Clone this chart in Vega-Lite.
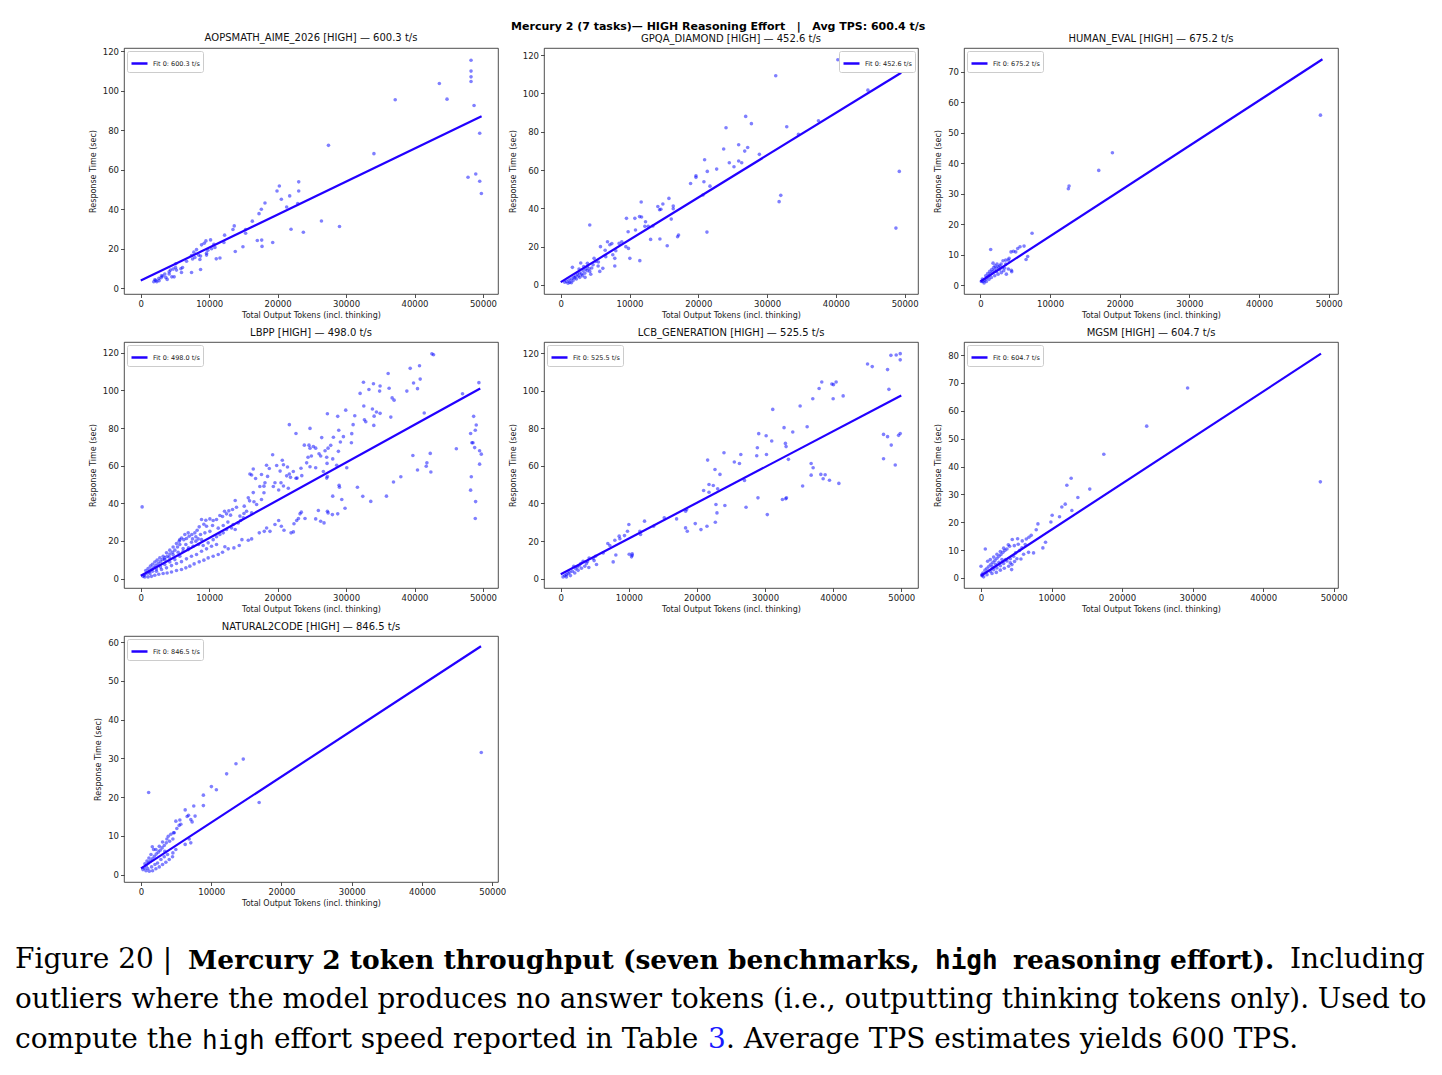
{
  "$schema": "https://vega.github.io/schema/vega-lite/v6.json",
  "background": "white",
  "padding": {"left": 15, "top": 20, "right": 0, "bottom": 5},
  "spacing": 38,
  "vconcat": [
    {
      "spacing": 0,
      "resolve": {"scale": {"color": "independent"}, "legend": {"color": "independent"}},
      "hconcat": [
        {"width": 73, "height": 1, "view": {"stroke": null}, "mark": "text", "encoding": {"text": {"value": ""}}},
        {
          "title": {"text": "Mercury 2 (7 tasks)— HIGH Reasoning Effort\u00a0\u00a0\u00a0|\u00a0\u00a0\u00a0Avg TPS: 600.4 t/s", "fontWeight": "bold", "fontSize": 11, "anchor": "middle", "offset": 1, "color": "#000"},
          "bounds": "flush",
          "columns": 3,
          "spacing": {"row": 48, "column": 46},
          "resolve": {"scale": {"color": "independent"}, "legend": {"color": "independent"}},
          "concat": [
            {
              "width": 374, "height": 246,
              "title": "AOPSMATH_AIME_2026 [HIGH] — 600.3 t/s",
              "encoding": {
                "x": {"field": "x", "type": "quantitative", "title": "Total Output Tokens (incl. thinking)", "scale": {"domain": [-2450, 52200], "nice": false, "zero": false}, "axis": {"values": [0, 10000, 20000, 30000, 40000, 50000], "format": "d"}},
                "y": {"field": "y", "type": "quantitative", "title": "Response Time (sec)", "scale": {"domain": [-3.0, 121.6], "nice": false, "zero": false}, "axis": {"values": [0, 20, 40, 60, 80, 100, 120], "format": "d"}}
              },
              "layer": [
                {
                  "data": {"values": "x,y\n48260,115.4\n48260,109.9\n48260,107.0\n48260,104.6\n43630,103.6\n44750,95.7\n37180,95.4\n48700,92.5\n49530,78.4\n27430,72.3\n34070,68.1\n47820,56.1\n48950,57.8\n49530,54.1\n49770,47.9\n20250,51.7\n19910,49.2\n23080,53.8\n23080,49.2\n20540,45.0\n21760,46.7\n21320,41.1\n18150,43.1\n17620,39.9\n17280,37.7\n22940,42.8\n16300,33.9\n26400,34.0\n29040,31.2\n23760,28.3\n21960,29.8\n13660,31.5\n13470,29.7\n15320,29.7\n15320,27.8\n12250,26.8\n13810,18.5\n17670,24.3\n17030,24.1\n17720,21.1\n19280,23.1\n14930,20.9\n12150,23.1\n11570,15.2\n11030,14.8\n10200,24.4\n9520,23.9\n9270,22.7\n8880,21.9\n10350,19.9\n10690,22.2\n10840,20.6\n8150,19.5\n7760,18.2\n7420,16.5\n7910,15.5\n8740,16.2\n8440,16.7\n9610,17.7\n9610,16.7\n9810,19.2\n7570,14.7\n8640,14.5\n8740,9.4\n7420,7.9\n6690,13.6\n5860,9.8\n6100,10.4\n5950,7.9\n5120,12.3\n5080,10.4\n4730,9.6\n5220,9.1\n4340,9.1\n4150,8.3\n4150,7.1\n4540,5.7\n4880,5.7\n3660,5.4\n3510,7.1\n3860,4.4\n3220,6.1\n2980,5.2\n2640,4.9\n2200,3.9\n1900,3.2\n2340,3.2\n2680,3.7\n2050,4.2\n3030,6.2", "format": {"type": "csv", "parse": {"x": "number", "y": "number"}}},
                  "mark": {"type": "circle", "size": 13, "color": "#0000ff", "opacity": 0.5}
                },
                {
                  "data": {"values": [{"x": 0, "y": 3.8, "fit": "Fit 0: 600.3 t/s"}, {"x": 49800, "y": 87.0, "fit": "Fit 0: 600.3 t/s"}]},
                  "mark": {"type": "line", "strokeWidth": 2.2},
                  "encoding": {"color": {"field": "fit", "type": "nominal", "scale": {"range": ["#2200ff"]}, "legend": {"title": null}}}
                }
              ]
            },
            {
              "width": 374, "height": 246,
              "title": "GPQA_DIAMOND [HIGH] — 452.6 t/s",
              "encoding": {
                "x": {"field": "x", "type": "quantitative", "title": "Total Output Tokens (incl. thinking)", "scale": {"domain": [-2430, 51940], "nice": false, "zero": false}, "axis": {"values": [0, 10000, 20000, 30000, 40000, 50000], "format": "d"}},
                "y": {"field": "y", "type": "quantitative", "title": "Response Time (sec)", "scale": {"domain": [-4.7, 123.7], "nice": false, "zero": false}, "axis": {"values": [0, 20, 40, 60, 80, 100, 120], "format": "d"}}
              },
              "layer": [
                {
                  "data": {"values": "x,y\n40290,117.6\n49510,114.3\n31260,109.2\n44660,101.7\n26890,88.0\n24030,82.1\n27720,84.2\n32860,82.6\n37470,85.7\n34560,78.6\n25870,73.2\n27180,71.8\n23690,71.0\n26750,69.9\n28880,68.2\n25870,64.7\n26310,63.8\n25190,61.7\n24510,63.8\n20920,65.4\n21310,59.3\n22670,60.5\n19660,57.0\n19660,56.2\n18880,53.0\n20820,53.9\n20680,47.0\n21700,51.6\n49220,59.3\n31990,46.8\n31750,43.5\n48730,29.7\n21260,27.6\n15730,45.2\n14850,42.3\n16360,41.2\n16360,39.8\n14120,41.0\n14370,39.3\n14560,39.5\n11700,43.3\n11460,35.7\n11750,35.5\n10780,34.8\n12330,33.0\n12230,30.6\n12720,30.6\n13400,30.8\n9560,34.8\n10870,28.7\n9800,27.8\n16070,34.4\n16990,25.2\n17130,26.1\n14420,24.0\n13070,23.8\n15480,20.5\n11500,12.7\n10050,13.9\n4220,31.3\n9470,20.0\n9850,19.1\n8880,22.6\n8490,21.7\n8010,17.9\n7570,15.8\n7860,13.9\n7860,9.9\n6800,22.6\n7430,21.6\n7140,21.0\n6460,18.1\n5780,20.0\n6550,14.8\n6120,8.7\n5680,7.1\n5480,12.0\n4850,13.9\n5100,12.3\n5440,9.9\n4370,5.6\n4220,7.1\n3880,11.3\n3880,9.6\n3640,8.3\n3540,4.0\n2910,11.5\n1700,9.2\n3250,7.5\n2770,6.3\n2430,5.7\n2180,4.7\n1890,4.0\n1550,3.1\n1210,2.6\n830,1.9\n580,1.4\n1310,1.4\n1800,2.3\n2280,3.1\n2770,4.0\n3160,4.9\n3490,6.1\n3830,7.5\n2570,4.7\n2040,3.7\n3010,5.7\n1070,0.9\n1550,1.2\n4130,8.5\n4510,8.9\n4710,10.6\n3350,9.6\n2670,8.3", "format": {"type": "csv", "parse": {"x": "number", "y": "number"}}},
                  "mark": {"type": "circle", "size": 13, "color": "#0000ff", "opacity": 0.5}
                },
                {
                  "data": {"values": [{"x": 0, "y": 1.5, "fit": "Fit 0: 452.6 t/s"}, {"x": 49500, "y": 110.8, "fit": "Fit 0: 452.6 t/s"}]},
                  "mark": {"type": "line", "strokeWidth": 2.2},
                  "encoding": {"color": {"field": "fit", "type": "nominal", "scale": {"range": ["#2200ff"]}, "legend": {"title": null, "orient": "top-right"}}}
                }
              ]
            },
            {
              "width": 374, "height": 246,
              "title": "HUMAN_EVAL [HIGH] — 675.2 t/s",
              "encoding": {
                "x": {"field": "x", "type": "quantitative", "title": "Total Output Tokens (incl. thinking)", "scale": {"domain": [-2350, 51330], "nice": false, "zero": false}, "axis": {"values": [0, 10000, 20000, 30000, 40000, 50000], "format": "d"}},
                "y": {"field": "y", "type": "quantitative", "title": "Response Time (sec)", "scale": {"domain": [-2.9, 77.7], "nice": false, "zero": false}, "axis": {"values": [0, 10, 20, 30, 40, 50, 60, 70], "format": "d"}}
              },
              "layer": [
                {
                  "data": {"values": "x,y\n48810,55.7\n18950,43.4\n16990,37.6\n12730,32.5\n12630,31.6\n7420,17.0\n6790,9.4\n6560,8.4\n6270,12.8\n5690,12.6\n5360,12.0\n5070,10.9\n4740,11.1\n4400,10.9\n4120,8.8\n4020,8.2\n3640,8.2\n4020,5.3\n4450,4.9\n4500,4.4\n3730,3.6\n3640,6.9\n3250,8.0\n2970,6.9\n2580,6.0\n2300,5.6\n2010,4.9\n1720,4.3\n1440,3.6\n1150,2.9\n860,2.3\n620,1.6\n380,1.2\n1480,11.7\n1820,7.2\n2390,6.9\n2780,6.3\n3160,5.8\n3010,4.1\n2540,3.6\n2060,3.1\n1580,2.5\n1240,1.9\n860,1.2\n530,0.7\n2300,4.5\n2780,5.1\n3490,5.6\n3350,4.7\n1910,5.8\n1630,5.1\n2110,6.3\n1340,4.5\n1050,3.8\n770,3.1\n290,2.0\n140,1.2", "format": {"type": "csv", "parse": {"x": "number", "y": "number"}}},
                  "mark": {"type": "circle", "size": 13, "color": "#0000ff", "opacity": 0.5}
                },
                {
                  "data": {"values": [{"x": 0, "y": 1.2, "fit": "Fit 0: 675.2 t/s"}, {"x": 49100, "y": 74.0, "fit": "Fit 0: 675.2 t/s"}]},
                  "mark": {"type": "line", "strokeWidth": 2.2},
                  "encoding": {"color": {"field": "fit", "type": "nominal", "scale": {"range": ["#2200ff"]}, "legend": {"title": null}}}
                }
              ]
            },
            {
              "width": 374, "height": 246,
              "title": "LBPP [HIGH] — 498.0 t/s",
              "encoding": {
                "x": {"field": "x", "type": "quantitative", "title": "Total Output Tokens (incl. thinking)", "scale": {"domain": [-2450, 52200], "nice": false, "zero": false}, "axis": {"values": [0, 10000, 20000, 30000, 40000, 50000], "format": "d"}},
                "y": {"field": "y", "type": "quantitative", "title": "Response Time (sec)", "scale": {"domain": [-5.0, 125.7], "nice": false, "zero": false}, "axis": {"values": [0, 20, 40, 60, 80, 100, 120], "format": "d"}}
              },
              "layer": [
                {
                  "data": {"values": "x,y\n42780,118.9\n42540,119.4\n40730,113.1\n39370,111.7\n36150,109.0\n40830,106.0\n39860,103.9\n32540,104.3\n34000,103.5\n34970,102.3\n36290,101.1\n33340,100.5\n34900,99.6\n32050,98.4\n38880,99.6\n40440,100.9\n49410,104.1\n47020,98.2\n36730,96.0\n37020,94.8\n32590,91.7\n33850,90.1\n34440,88.5\n34970,87.8\n36540,85.8\n34100,86.3\n32680,84.4\n32880,83.3\n34050,81.4\n29950,89.5\n28780,86.2\n27270,87.6\n31270,86.5\n31030,81.8\n30830,77.0\n28930,78.8\n29610,75.4\n29170,72.6\n28150,75.1\n26440,74.9\n27760,70.8\n27370,69.3\n26930,67.9\n28880,67.6\n30780,72.2\n24730,79.8\n22680,77.1\n21710,81.8\n23900,70.9\n24580,70.9\n25220,70.2\n25560,69.3\n24730,69.3\n26050,66.3\n26290,65.1\n24930,65.1\n24440,64.5\n24240,61.5\n24730,59.4\n25560,58.9\n27170,64.5\n28050,63.6\n27220,61.2\n28630,60.2\n30100,58.9\n23410,58.6\n22290,56.9\n20680,62.9\n19270,65.8\n19860,60.1\n20850,60.5\n21440,59.3\n20360,57.1\n21710,55.6\n21320,54.6\n21880,53.8\n22840,53.4\n23530,54.7\n18380,60.2\n18780,58.5\n17640,55.3\n18530,54.3\n16440,58.2\n15950,55.6\n16200,55.0\n16780,53.2\n18150,50.9\n19610,50.9\n19370,48.9\n20490,50.9\n20850,49.2\n21560,48.0\n22680,53.3\n20150,47.1\n18000,49.1\n17400,48.9\n18000,45.6\n16440,45.7\n15710,42.9\n15900,41.3\n15120,38.5\n15460,35.8\n15080,34.6\n16200,34.9\n16540,40.8\n17640,42.0\n16930,39.4\n13800,41.5\n13990,37.9\n13410,36.7\n12870,36.0\n12240,35.8\n13120,33.7\n12530,34.4\n11950,33.0\n11560,33.5\n11070,31.4\n10580,30.9\n10100,31.7\n9510,31.0\n9220,28.9\n8880,31.4\n9610,27.8\n10490,28.2\n11320,26.8\n12050,28.2\n12730,30.0\n13800,26.1\n14590,30.9\n8540,27.5\n8240,25.7\n7900,24.3\n7460,23.4\n7070,22.5\n6680,21.3\n6290,20.7\n5710,20.7\n7560,21.1\n8050,19.9\n8390,21.1\n8730,23.4\n9370,24.3\n10100,25.1\n8440,18.1\n7660,17.2\n6970,16.3\n6190,16.0\n5710,18.1\n5370,16.8\n4980,15.1\n4630,14.0\n4240,13.1\n3850,11.9\n3510,11.0\n3170,10.1\n2880,9.0\n2540,8.0\n2200,6.9\n1900,5.9\n1560,4.8\n1220,3.7\n830,2.7\n490,1.8\n340,1.2\n200,38.1\n590,0.9\n1070,0.9\n1560,1.2\n2050,1.8\n2630,2.3\n3270,2.7\n3850,3.0\n4490,3.5\n5220,4.3\n5950,4.8\n6590,5.7\n7170,6.6\n7800,7.8\n8540,8.9\n9220,9.8\n9850,11.0\n10580,11.9\n11320,12.8\n11950,14.0\n12780,15.8\n12290,16.9\n13610,16.3\n14390,17.6\n14780,20.7\n15710,20.4\n16200,21.1\n17320,24.3\n18050,25.1\n18390,26.9\n18880,25.1\n19610,28.7\n20150,30.9\n20540,27.8\n20930,25.7\n21960,24.3\n22300,24.8\n22780,30.9\n23270,34.4\n22390,29.1\n23040,31.9\n23460,35.3\n24000,31.9\n25560,31.7\n25950,36.2\n26290,30.5\n26780,29.6\n27270,35.8\n27370,34.9\n28000,34.0\n28780,34.4\n28050,43.8\n29370,42.0\n29850,37.4\n28980,49.6\n29030,48.5\n26680,56.9\n27270,54.2\n27170,53.4\n31660,48.5\n32440,43.7\n33610,41.0\n35900,43.8\n36930,51.3\n38000,54.1\n39760,65.4\n40440,57.7\n41810,61.5\n41710,59.7\n42300,66.5\n42390,56.6\n41420,88.0\n46110,69.0\n48200,77.1\n48540,72.2\n48640,86.2\n49020,81.6\n48880,78.8\n48390,72.2\n48790,69.6\n49510,67.9\n49760,66.1\n49510,60.8\n48300,54.1\n48200,47.0\n48930,40.9\n48880,31.9\n3270,11.9\n3760,13.7\n4240,15.1\n4730,16.8\n5220,18.6\n5610,19.9\n5950,21.6\n6440,23.4\n6930,24.3\n2780,11.0\n2390,9.8\n2050,8.8\n1710,7.6\n1410,6.6\n1070,5.3\n730,4.3\n2290,3.9\n3030,4.8\n3760,5.7\n4490,6.9\n5220,8.0\n5950,9.0\n6680,10.5\n7410,11.9\n8150,12.8\n8880,14.5\n9610,15.8\n10340,17.2\n11070,18.1\n5710,11.9\n4980,10.1\n4240,8.8\n3510,7.5\n2880,6.2\n2290,5.1\n1710,3.9\n1320,2.7\n3510,10.1\n4150,11.4\n4730,12.6\n5460,14.0\n6190,14.5\n6930,15.4\n6590,18.1\n7410,19.3\n8050,22.2\n8880,20.7\n9120,17.6\n9850,19.0\n10580,20.7\n11070,22.2\n11560,23.4\n12050,24.3\n12530,26.1\n13270,26.9\n13510,28.7\n14240,29.6\n14490,33.2\n14980,32.3", "format": {"type": "csv", "parse": {"x": "number", "y": "number"}}},
                  "mark": {"type": "circle", "size": 13, "color": "#0000ff", "opacity": 0.5}
                },
                {
                  "data": {"values": [{"x": 0, "y": 1.5, "fit": "Fit 0: 498.0 t/s"}, {"x": 49600, "y": 101.0, "fit": "Fit 0: 498.0 t/s"}]},
                  "mark": {"type": "line", "strokeWidth": 2.2},
                  "encoding": {"color": {"field": "fit", "type": "nominal", "scale": {"range": ["#2200ff"]}, "legend": {"title": null}}}
                }
              ]
            },
            {
              "width": 374, "height": 246,
              "title": "LCB_GENERATION [HIGH] — 525.5 t/s",
              "encoding": {
                "x": {"field": "x", "type": "quantitative", "title": "Total Output Tokens (incl. thinking)", "scale": {"domain": [-2460, 52460], "nice": false, "zero": false}, "axis": {"values": [0, 10000, 20000, 30000, 40000, 50000], "format": "d"}},
                "y": {"field": "y", "type": "quantitative", "title": "Response Time (sec)", "scale": {"domain": [-5.0, 126.0], "nice": false, "zero": false}, "axis": {"values": [0, 20, 40, 60, 80, 100, 120], "format": "d"}}
              },
              "layer": [
                {
                  "data": {"values": "x,y\n49850,119.8\n49260,119.1\n48480,118.9\n49850,116.5\n45050,114.3\n45740,112.9\n47990,111.3\n48190,100.8\n40440,104.7\n38330,104.7\n39810,103.6\n40050,103.3\n37940,101.2\n41470,97.3\n37010,95.8\n40000,95.8\n35150,91.9\n31130,90.1\n36180,80.9\n32790,80.4\n34070,78.1\n29070,77.2\n30160,76.1\n47400,76.8\n47990,75.6\n49610,76.3\n49850,77.3\n30980,73.3\n32990,72.0\n33090,70.3\n28870,69.7\n28780,65.4\n30210,66.1\n33430,63.5\n48530,71.1\n47400,63.8\n49120,60.5\n36770,61.3\n37060,59.0\n36770,55.1\n38190,55.5\n38830,55.3\n38530,53.2\n39460,52.4\n40840,50.7\n35520,49.3\n32550,42.1\n33140,43.0\n33040,42.5\n28960,43.0\n30330,34.1\n27210,38.0\n23970,67.0\n25490,62.1\n26440,66.1\n26240,61.3\n26980,52.3\n21570,63.1\n22650,58.1\n23380,55.5\n22400,49.6\n21770,50.1\n21770,46.0\n20980,46.9\n23040,47.8\n22790,39.5\n24100,38.9\n22700,30.0\n22940,35.0\n21470,27.9\n20590,26.1\n19750,29.3\n18480,36.8\n18330,35.9\n18330,27.0\n18580,25.2\n17010,31.8\n15200,32.4\n13630,27.9\n12300,30.6\n11720,23.5\n11620,25.2\n10000,28.8\n9800,25.2\n9360,22.9\n8580,22.6\n7940,20.4\n8680,21.2\n6910,18.7\n7210,17.6\n10050,13.0\n10490,13.2\n10390,11.6\n10490,12.4\n8090,12.6\n7700,8.9\n6230,13.7\n5250,7.5\n5100,11.9\n4750,10.7\n4900,9.6\n4170,11.0\n3920,9.1\n3280,9.2\n4120,5.9\n2940,8.0\n2700,6.9\n2400,6.2\n2210,5.2\n1910,6.6\n1720,3.9\n1320,3.4\n1080,2.7\n830,2.1\n590,1.6\n340,0.9\n830,0.9\n1420,1.6\n2060,3.0\n2550,4.4\n3040,5.5\n3530,6.6\n3770,8.0", "format": {"type": "csv", "parse": {"x": "number", "y": "number"}}},
                  "mark": {"type": "circle", "size": 13, "color": "#0000ff", "opacity": 0.5}
                },
                {
                  "data": {"values": [{"x": 0, "y": 2.3, "fit": "Fit 0: 525.5 t/s"}, {"x": 50000, "y": 97.5, "fit": "Fit 0: 525.5 t/s"}]},
                  "mark": {"type": "line", "strokeWidth": 2.2},
                  "encoding": {"color": {"field": "fit", "type": "nominal", "scale": {"range": ["#2200ff"]}, "legend": {"title": null}}}
                }
              ]
            },
            {
              "width": 374, "height": 246,
              "title": "MGSM [HIGH] — 604.7 t/s",
              "encoding": {
                "x": {"field": "x", "type": "quantitative", "title": "Total Output Tokens (incl. thinking)", "scale": {"domain": [-2410, 50610], "nice": false, "zero": false}, "axis": {"values": [0, 10000, 20000, 30000, 40000, 50000], "format": "d"}},
                "y": {"field": "y", "type": "quantitative", "title": "Response Time (sec)", "scale": {"domain": [-3.6, 84.7], "nice": false, "zero": false}, "axis": {"values": [0, 10, 20, 30, 40, 50, 60, 70, 80], "format": "d"}}
              },
              "layer": [
                {
                  "data": {"values": "x,y\n48110,34.5\n29290,68.2\n23490,54.5\n17410,44.4\n12780,35.8\n12170,33.3\n15420,31.9\n13730,28.9\n11940,26.5\n11460,25.5\n12880,24.2\n11130,22.0\n10090,22.5\n9910,20.1\n9150,12.8\n8770,10.8\n8070,19.4\n7830,17.3\n7450,9.0\n7120,15.3\n6790,14.6\n6740,9.2\n6420,14.0\n6270,12.0\n6040,8.5\n5660,6.8\n5190,14.1\n5280,12.1\n5090,6.9\n4720,11.6\n4430,13.8\n4150,5.4\n4060,11.4\n3680,10.4\n3390,9.9\n3110,9.2\n2830,8.4\n2550,7.8\n2260,7.1\n1980,6.3\n1700,5.6\n1410,4.9\n1130,4.2\n850,3.5\n570,2.8\n280,1.8\n140,1.2\n0,4.2\n610,10.4\n940,6.0\n1320,2.4\n1790,3.0\n2260,3.6\n2740,4.4\n3210,5.2\n3680,6.1\n4150,6.9\n4620,7.8\n4910,9.0\n5470,9.9\n5800,10.8\n850,1.2\n1560,1.6\n2170,2.0\n2740,2.8\n3300,3.5\n3920,4.2\n4390,4.8\n1320,6.6\n1790,7.5\n2260,8.5\n2740,9.5\n3210,10.7\n3870,11.9\n3490,6.6\n1600,4.0\n2080,4.9\n2550,5.6\n2970,6.6\n5850,13.3\n4760,5.9\n4340,3.0\n380,0.4\n140,0.8", "format": {"type": "csv", "parse": {"x": "number", "y": "number"}}},
                  "mark": {"type": "circle", "size": 13, "color": "#0000ff", "opacity": 0.5}
                },
                {
                  "data": {"values": [{"x": 0, "y": 0.8, "fit": "Fit 0: 604.7 t/s"}, {"x": 48200, "y": 80.5, "fit": "Fit 0: 604.7 t/s"}]},
                  "mark": {"type": "line", "strokeWidth": 2.2},
                  "encoding": {"color": {"field": "fit", "type": "nominal", "scale": {"range": ["#2200ff"]}, "legend": {"title": null}}}
                }
              ]
            },
            {
              "width": 374, "height": 246,
              "title": "NATURAL2CODE [HIGH] — 846.5 t/s",
              "encoding": {
                "x": {"field": "x", "type": "quantitative", "title": "Total Output Tokens (incl. thinking)", "scale": {"domain": [-2420, 50820], "nice": false, "zero": false}, "axis": {"values": [0, 10000, 20000, 30000, 40000, 50000], "format": "d"}},
                "y": {"field": "y", "type": "quantitative", "title": "Response Time (sec)", "scale": {"domain": [-1.9, 61.55], "nice": false, "zero": false}, "axis": {"values": [0, 10, 20, 30, 40, 50, 60], "format": "d"}}
              },
              "layer": [
                {
                  "data": {"values": "x,y\n48440,31.5\n14560,29.8\n13520,28.6\n12190,26.0\n10020,22.7\n10730,21.9\n1090,21.2\n16820,18.6\n8880,20.5\n8880,17.8\n7510,17.7\n7700,15.1\n6290,16.7\n6760,15.3\n6570,15.0\n7090,14.2\n7280,13.6\n5530,14.1\n5670,13.0\n4960,13.8\n5430,12.7\n5100,11.9\n6860,9.2\n7090,8.2\n6290,7.8\n4630,10.8\n4250,10.4\n3880,9.9\n4540,9.2\n4960,6.5\n4540,5.6\n4070,8.6\n3600,8.2\n3310,7.5\n3010,6.9\n3390,6.0\n2730,6.3\n2460,5.8\n2170,5.3\n1890,4.7\n1610,7.2\n1800,6.5\n1610,4.1\n1320,3.5\n1040,3.0\n750,2.3\n470,1.7\n280,1.3\n710,1.0\n1180,0.9\n1650,1.0\n2120,1.5\n2600,2.0\n3070,2.6\n3540,3.2\n4020,3.9\n4490,4.6\n2360,3.0\n2840,3.9\n3310,4.6\n3780,5.2\n1980,2.6\n1510,2.0\n950,1.6\n2120,6.5\n2600,7.3\n3070,8.4\n3690,9.2\n1420,5.2\n1130,4.3\n850,3.5\n560,2.8\n4730,10.8", "format": {"type": "csv", "parse": {"x": "number", "y": "number"}}},
                  "mark": {"type": "circle", "size": 13, "color": "#0000ff", "opacity": 0.5}
                },
                {
                  "data": {"values": [{"x": 0, "y": 1.6, "fit": "Fit 0: 846.5 t/s"}, {"x": 48400, "y": 58.9, "fit": "Fit 0: 846.5 t/s"}]},
                  "mark": {"type": "line", "strokeWidth": 2.2},
                  "encoding": {"color": {"field": "fit", "type": "nominal", "scale": {"range": ["#2200ff"]}, "legend": {"title": null}}}
                }
              ]
            }
          ]
        }
      ]
    },
    {
      "spacing": 11,
      "vconcat": [
        {
          "spacing": 15,
          "hconcat": [
            {"width": 1, "height": 1, "view": {"stroke": null}, "mark": "text", "encoding": {"text": {"value": ""}}, "title": {"text": "Figure 20 |", "anchor": "start", "font": "DejaVu Serif", "fontSize": 28, "fontWeight": "normal", "color": "#000", "offset": 0}},
            {"width": 1, "height": 1, "view": {"stroke": null}, "mark": "text", "encoding": {"text": {"value": ""}}, "title": {"text": "Mercury 2 token throughput (seven benchmarks,", "anchor": "start", "font": "DejaVu Serif", "fontSize": 26.5, "fontWeight": "bold", "color": "#000", "offset": 0}},
            {"width": 1, "height": 1, "view": {"stroke": null}, "mark": "text", "encoding": {"text": {"value": ""}}, "title": {"text": "high", "anchor": "start", "font": "DejaVu Sans Mono", "fontSize": 26, "fontWeight": "bold", "color": "#000", "offset": 0}},
            {"width": 1, "height": 1, "view": {"stroke": null}, "mark": "text", "encoding": {"text": {"value": ""}}, "title": {"text": "reasoning effort).", "anchor": "start", "font": "DejaVu Serif", "fontSize": 26.5, "fontWeight": "bold", "color": "#000", "offset": 0}},
            {"width": 1, "height": 1, "view": {"stroke": null}, "mark": "text", "encoding": {"text": {"value": ""}}, "title": {"text": "Including", "anchor": "start", "font": "DejaVu Serif", "fontSize": 28, "fontWeight": "normal", "color": "#000", "offset": 0}}
          ]
        },
        {"width": 1, "height": 1, "view": {"stroke": null}, "mark": "text", "encoding": {"text": {"value": ""}}, "title": {"text": "outliers where the model produces no answer tokens (i.e., outputting thinking tokens only). Used to", "anchor": "start", "font": "DejaVu Serif", "fontSize": 27.8, "fontWeight": "normal", "color": "#000", "offset": 0}},
        {
          "spacing": 9,
          "hconcat": [
            {"width": 1, "height": 1, "view": {"stroke": null}, "mark": "text", "encoding": {"text": {"value": ""}}, "title": {"text": "compute the", "anchor": "start", "font": "DejaVu Serif", "fontSize": 28, "fontWeight": "normal", "color": "#000", "offset": 0}},
            {"width": 1, "height": 1, "view": {"stroke": null}, "mark": "text", "encoding": {"text": {"value": ""}}, "title": {"text": "high", "anchor": "start", "font": "DejaVu Sans Mono", "fontSize": 26, "fontWeight": "normal", "color": "#000", "offset": 0}},
            {"width": 1, "height": 1, "view": {"stroke": null}, "mark": "text", "encoding": {"text": {"value": ""}}, "title": {"text": "effort speed reported in Table", "anchor": "start", "font": "DejaVu Serif", "fontSize": 28, "fontWeight": "normal", "color": "#000", "offset": 0}},
            {
              "spacing": 0,
              "hconcat": [
                {"width": 1, "height": 1, "view": {"stroke": null}, "mark": "text", "encoding": {"text": {"value": ""}}, "title": {"text": "3", "anchor": "start", "font": "DejaVu Serif", "fontSize": 28, "fontWeight": "normal", "color": "#1a1aff", "offset": 0}},
                {"width": 1, "height": 1, "view": {"stroke": null}, "mark": "text", "encoding": {"text": {"value": ""}}, "title": {"text": ". Average TPS estimates yields 600 TPS.", "anchor": "start", "font": "DejaVu Serif", "fontSize": 28, "fontWeight": "normal", "color": "#000", "offset": 0}}
              ]
            }
          ]
        }
      ]
    }
  ],
  "config": {
    "font": "DejaVu Sans",
    "view": {"stroke": "#222222", "strokeWidth": 0.8},
    "axis": {
      "grid": false, "domain": false,
      "labelFont": "DejaVu Sans", "labelFontSize": 8.5, "labelColor": "#222222",
      "titleFont": "DejaVu Sans", "titleFontSize": 8, "titleFontWeight": "normal", "titleColor": "#222222",
      "tickColor": "#222222", "tickSize": 3.5, "tickWidth": 0.8,
      "labelPadding": 2, "labelFlush": false
    },
    "axisX": {"titlePadding": 3},
    "axisY": {"titlePadding": 5},
    "title": {"font": "DejaVu Sans", "fontSize": 10, "fontWeight": "normal", "color": "#111111", "offset": 4},
    "legend": {
      "orient": "top-left", "offset": 3, "padding": 3,
      "strokeColor": "#cccccc", "fillColor": "#ffffff", "cornerRadius": 2,
      "labelFont": "DejaVu Sans", "labelFontSize": 6.5, "labelColor": "#222222",
      "symbolSize": 256, "symbolStrokeWidth": 2.5
    }
  }
}
